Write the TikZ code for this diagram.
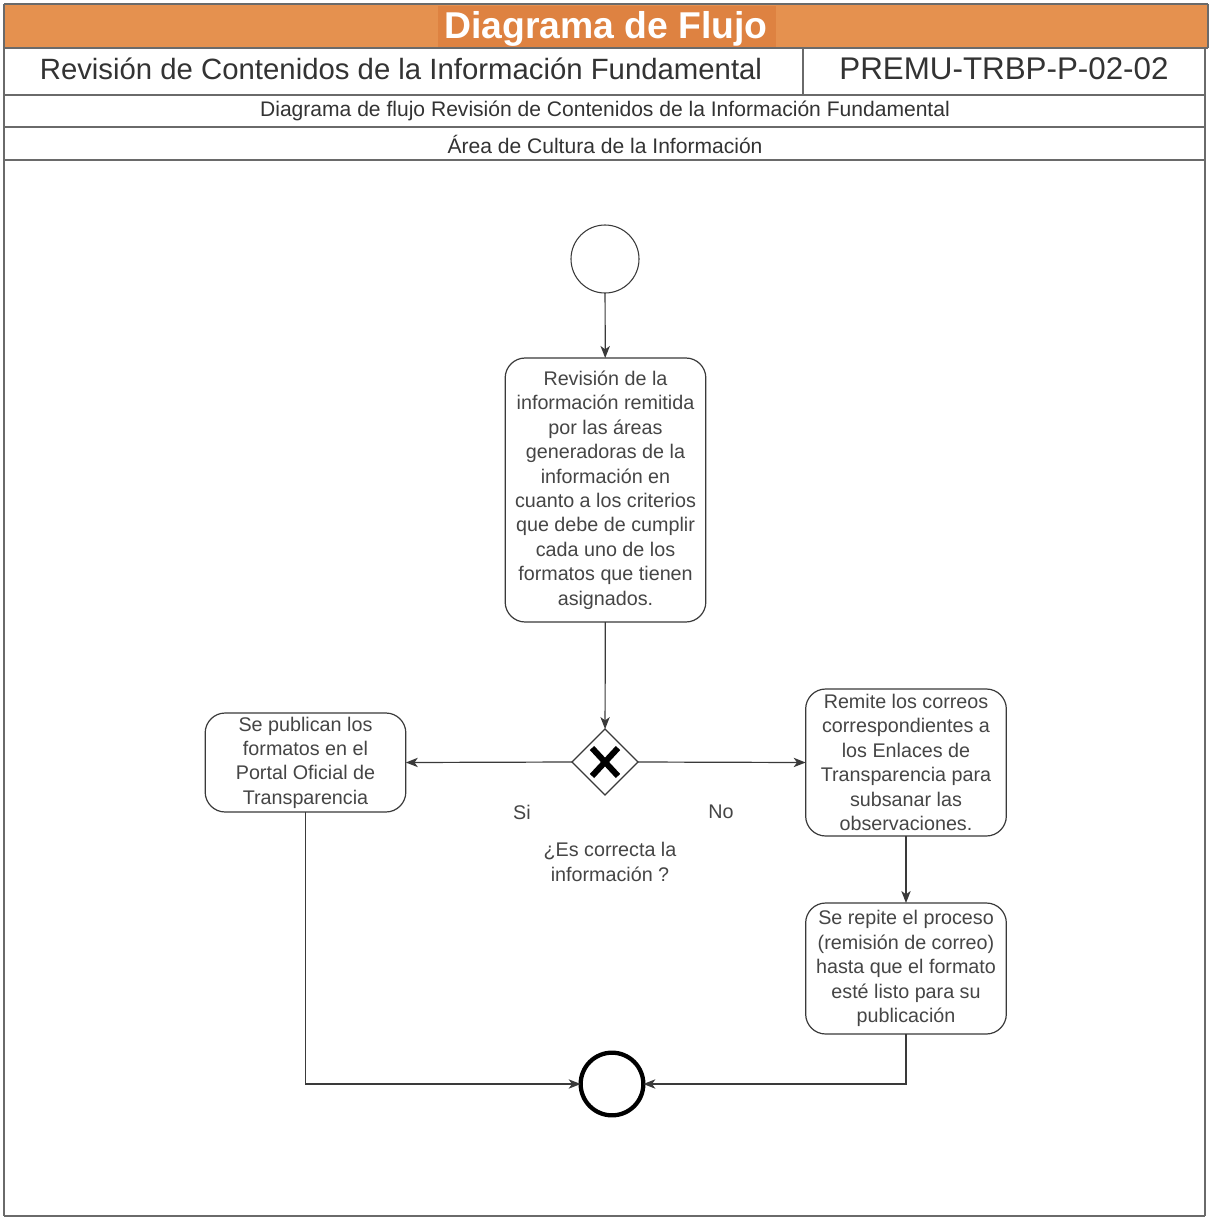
\documentclass[tikz,border=0pt]{standalone}
\usepackage{fontspec}
\setmainfont{Liberation Sans}
\usetikzlibrary{shapes.geometric,arrows.meta,calc}
\definecolor{txt}{HTML}{454545}
\definecolor{hdr}{HTML}{333333}
\definecolor{orng}{HTML}{E5914F}
\definecolor{orngd}{HTML}{DE8241}
\definecolor{frame}{HTML}{6A6A6A}
\definecolor{edge}{HTML}{3A3A3A}
\begin{document}
\begin{tikzpicture}[x=0.75pt,y=-0.75pt,
  every node/.style={inner sep=0pt, outer sep=0pt},
  proc/.style={draw=edge, line width=0.9pt, rounded corners=15pt, align=center,
    text=txt, font=\fontsize{14.8pt}{18.3pt}\selectfont, minimum width=150.5pt},
  lbl/.style={text=txt, align=center, font=\fontsize{14.8pt}{18.3pt}\selectfont},
  arr/.style={draw=edge, line width=0.9pt, -{Stealth[length=9pt,width=7pt,inset=2.5pt]}},
  conn/.style={draw=edge, line width=0.9pt},
  fline/.style={draw=frame, line width=1.3pt}
]
\useasboundingbox (0,0) rectangle (1209,1218);
\fill[white] (0,0) rectangle (1209,1218);
% header band
\fill[orng] (4,4) rectangle (1208,48);
\fill[orngd] (438,6) rectangle (776,47);
\node[text=white, font=\fontsize{28pt}{30pt}\selectfont\bfseries] (title) at (606,28.5) {Diagrama de Flujo};
% frame lines
\draw[fline] (4,4) -- (1208,4);
\draw[fline] (4,48) -- (1208,48);
\draw[fline] (4,95) -- (1205,95);
\draw[fline] (4,127) -- (1205,127);
\draw[fline] (4,160) -- (1205,160);
\draw[fline] (4,1216) -- (1205,1216);
\draw[fline] (4,4) -- (4,1216);
\draw[fline] (1205,48) -- (1205,1216);
\draw[fline] (1208,4) -- (1208,48);
\draw[fline] (803,48) -- (803,95);
\node[text=hdr, font=\fontsize{22pt}{24pt}\selectfont] (t1) at (401,69) {Revisión de Contenidos de la Información Fundamental};
\node[text=hdr, font=\fontsize{23.5pt}{24pt}\selectfont] (t2) at (1004,69) {PREMU-TRBP-P-02-02};
\node[text=hdr, font=\fontsize{15.8pt}{18pt}\selectfont] (t3) at (605,111) {Diagrama de flujo Revisión de Contenidos de la Información Fundamental};
\node[text=hdr, font=\fontsize{15.8pt}{18pt}\selectfont] (t4) at (605,144) {Área de Cultura de la Información};
% flow nodes
\node[circle, draw=edge, line width=0.8pt, minimum size=51pt] (start) at (605,259) {};
\node[proc, minimum height=198pt] (b1) at (605.5,490) {Revisión de la\\información remitida\\por las áreas\\generadoras de la\\información en\\cuanto a los criterios\\que debe de cumplir\\cada uno de los\\formatos que tienen\\asignados.};
\node[diamond, draw=edge, line width=0.9pt, minimum width=49.5pt, minimum height=49.5pt, shape aspect=1] (gw) at (605,762) {};
\draw[line width=4.5pt, black] ($(gw.center)+(-13,-14)$) -- ($(gw.center)+(13,14)$);
\draw[line width=4.5pt, black] ($(gw.center)+(13,-14)$) -- ($(gw.center)+(-13,14)$);
\node[proc, minimum height=74.25pt] (pub) at (305.5,762.5) {Se publican los\\formatos en el\\Portal Oficial de\\Transparencia};
\node[proc, minimum height=110.25pt] (rem) at (906,762.5) {Remite los correos\\correspondientes a\\los Enlaces de\\Transparencia para\\subsanar las\\observaciones.};
\node[proc, minimum height=98.25pt] (rep) at (906,968.5) {Se repite el proceso\\(remisión de correo)\\hasta que el formato\\esté listo para su\\publicación};
\node[circle, draw=black, line width=3.2pt, minimum size=47pt] (end) at (612,1084) {};
% labels
\node[lbl] (si) at (522,812) {Si};
\node[lbl] (no) at (721,812) {No};
\node[lbl] (q) at (610,862) {¿Es correcta la\\información ?};
% connectors
\draw[arr] (start) -- (b1);
\draw[arr] (b1) -- (gw);
\draw[arr] (gw.west) -- (pub.east);
\draw[arr] (gw.east) -- (rem.west);
\draw[arr] (rem) -- (rep);
\draw[arr] (pub.south) |- (end.west);
\draw[arr] (rep.south) |- (end.east);
\end{tikzpicture}
\end{document}
